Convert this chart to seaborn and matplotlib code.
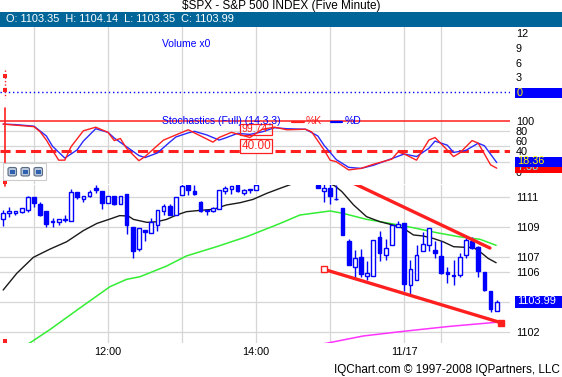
import matplotlib
matplotlib.use("Agg")
import matplotlib.pyplot as plt
from matplotlib.patches import Rectangle, FancyBboxPatch
from matplotlib.lines import Line2D
import numpy as np
import pandas as pd
import seaborn as sns

# ---------------- data ----------------
# 5-minute bars; index 0 = 11:00 on 11/16, index 60 = 09:30 on 11/17
bar_idx = list(range(-5, 76))
opens = [1109.49, 1109.89, 1109.91, 1109.96, 1110.09, 1110.96, 1110.54, 1110.05, 1109.40, 1109.31,
         1109.53, 1109.36, 1111.29, 1110.85, 1111.02, 1111.58, 1111.36, 1110.58, 1111.02, 1110.51,
         1111.18, 1109.00, 1107.53, 1108.76, 1108.58, 1109.09, 1110.02, 1110.36, 1109.80, 1111.09,
         1111.76, 1111.40, 1110.65, 1110.14, 1110.02, 1110.20, 1111.40, 1111.53, 1111.76, 1111.27,
         1111.49, 1111.45, 1112.30, 1112.80, 1113.10, 1112.90, 1113.00, 1113.30, 1112.80, 1112.60,
         1112.70, 1111.76, 1111.40, 1111.58, 1110.85, 1110.25, 1108.07, 1106.29, 1106.96, 1105.69,
         1105.69, 1108.29, 1107.09, 1107.76, 1109.00, 1109.25, 1105.13, 1105.47, 1107.36, 1107.80,
         1107.47, 1107.07, 1105.98, 1105.80, 1105.80, 1107.14, 1108.07, 1107.62, 1105.98, 1104.69,
         1103.35]
highs = [1110.11, 1110.29, 1110.05, 1110.22, 1111.02, 1111.00, 1110.65, 1110.05, 1109.58, 1109.49,
         1109.76, 1111.51, 1111.29, 1111.02, 1111.42, 1111.76, 1111.36, 1111.02, 1111.02, 1111.02,
         1111.18, 1109.00, 1108.91, 1108.76, 1109.58, 1110.14, 1110.51, 1110.51, 1110.98, 1112.30,
         1112.20, 1111.76, 1110.69, 1110.14, 1110.29, 1111.47, 1111.69, 1111.69, 1111.76, 1111.53,
         1111.51, 1112.30, 1113.00, 1113.30, 1113.40, 1113.20, 1113.50, 1113.40, 1113.10, 1112.90,
         1112.90, 1112.40, 1112.20, 1112.20, 1111.76, 1110.25, 1108.18, 1107.47, 1107.51, 1106.69,
         1108.09, 1108.69, 1108.18, 1109.09, 1109.40, 1109.25, 1106.80, 1107.80, 1108.65, 1108.91,
         1108.02, 1108.07, 1106.29, 1106.80, 1107.25, 1108.25, 1108.29, 1107.69, 1105.98, 1104.69,
         1104.14]
lows = [1109.07, 1109.67, 1109.80, 1109.89, 1110.00, 1110.29, 1109.74, 1108.98, 1108.96, 1109.13,
        1109.31, 1109.36, 1110.82, 1110.65, 1110.96, 1111.25, 1110.20, 1110.58, 1110.42, 1110.51,
        1108.54, 1106.91, 1107.36, 1108.02, 1108.58, 1108.69, 1109.80, 1109.80, 1109.80, 1111.09,
        1111.13, 1111.09, 1109.98, 1109.76, 1109.98, 1110.20, 1111.18, 1111.18, 1111.31, 1111.09,
        1111.25, 1111.45, 1112.20, 1112.50, 1112.70, 1112.60, 1112.80, 1112.70, 1112.40, 1112.30,
        1112.20, 1111.58, 1110.65, 1110.51, 1110.80, 1108.42, 1106.42, 1105.58, 1105.62, 1105.47,
        1105.69, 1106.69, 1106.80, 1107.76, 1108.95, 1104.74, 1104.47, 1105.47, 1107.36, 1107.40,
        1106.91, 1105.85, 1105.25, 1105.13, 1105.62, 1106.91, 1107.53, 1105.62, 1104.74, 1103.29,
        1103.35]
closes = [1109.94, 1110.05, 1110.03, 1110.22, 1110.98, 1110.58, 1109.76, 1109.20, 1109.34, 1109.49,
          1109.42, 1111.29, 1110.96, 1111.02, 1111.31, 1111.47, 1110.58, 1111.02, 1110.51, 1111.02,
          1109.13, 1107.36, 1108.91, 1108.62, 1109.29, 1110.14, 1110.36, 1109.80, 1110.98, 1111.70,
          1111.47, 1111.18, 1110.07, 1110.02, 1110.25, 1111.47, 1111.58, 1111.69, 1111.40, 1111.45,
          1111.42, 1111.80, 1112.80, 1113.10, 1112.90, 1113.00, 1113.30, 1112.80, 1112.60, 1112.70,
          1112.40, 1111.60, 1111.58, 1111.02, 1110.82, 1108.47, 1106.47, 1106.91, 1105.85, 1105.91,
          1108.09, 1107.25, 1107.60, 1109.09, 1109.20, 1105.18, 1106.18, 1107.09, 1107.85, 1108.91,
          1107.25, 1105.90, 1105.87, 1105.73, 1106.96, 1108.13, 1107.58, 1106.07, 1104.80, 1103.54,
          1103.99]

ma_black_idx = [-5, -2.8, -0.1, 2.6, 5.3, 8, 10.2, 12.3, 13.9, 15.3, 16.1, 18.3, 19.9, 21.5, 23.1,
                24.7, 26.9, 29.1, 31.2, 33.4, 35.5, 37.7, 39.9, 41.5, 44, 46, 47.8, 48.8, 49.9,
                51.8, 53.9, 56.1, 58.2, 59.9, 61.5, 63.1, 64.7, 66.3, 68, 70.1, 71.2, 72.3, 73.6, 74.9]
ma_black = [1104.78, 1105.89, 1106.96, 1107.51, 1108.00, 1108.74, 1109.22, 1109.51, 1109.74, 1109.71,
            1109.49, 1109.29, 1109.33, 1109.49, 1109.78, 1110.00, 1110.09, 1110.16, 1110.45, 1110.60,
            1110.82, 1111.22, 1111.56, 1111.80, 1112.20, 1112.30, 1111.90, 1111.71, 1111.34, 1110.45,
            1109.67, 1109.33, 1109.11, 1108.89, 1108.45, 1108.38, 1108.22, 1108.00, 1107.67, 1107.62,
            1107.62, 1107.33, 1106.89, 1106.60]

ma_green_idx = [-5, -0.4, 2.6, 7.5, 12.3, 15, 17.2, 21.5, 24.7, 29.6, 34.5, 39.9, 43.1, 48, 50.1,
                53.9, 57.7, 61.5, 65.3, 68.9, 72.3, 74.9]
ma_green = [1100.20, 1101.33, 1102.15, 1103.60, 1105.00, 1105.49, 1105.67, 1106.38, 1107.05, 1107.67,
            1108.34, 1109.22, 1109.78, 1110.05, 1109.89, 1109.49, 1109.22, 1108.93, 1108.60, 1108.33,
            1108.16, 1107.76]

ma_magenta_idx = [40, 47, 53.4, 59.9, 67.4, 75.5]
ma_magenta = [1100.60, 1101.20, 1101.72, 1102.03, 1102.36, 1102.65]

trend_upper_idx = [51, 73.9]
trend_upper = [1112.05, 1107.58]
trend_lower_idx = [47, 75.7]
trend_lower = [1106.16, 1102.60]

stoch_k_idx = [-5, -2, 0, 1, 2, 3, 4, 5, 6, 8, 10, 12, 13, 14, 15, 17, 18, 21, 23, 25, 27, 29, 30,
               32, 35, 37, 39, 41, 44, 45, 47, 48, 49, 51, 53, 55, 58, 59, 60, 62, 64, 65, 68, 69,
               71, 72, 74, 75]
stoch_k = [93, 90, 88, 78, 62, 42, 23, 23, 49, 80, 87, 77, 61, 65, 46, 22, 30, 62, 72, 82, 70, 58, 67,
           77, 67, 83, 87, 82, 83, 78, 43, 23, 20, 4, 7, 15, 25, 39, 35, 23, 62, 67, 30, 37,
           61, 56, 14, 7.38]
stoch_d_idx = [-5, -3, 0, 2, 3, 5, 7, 8, 10, 12, 13, 15, 17, 18, 20, 22, 23, 25, 26, 28, 30, 31, 33,
               35, 37, 39, 41, 44, 46, 47, 49, 51, 53, 55, 58, 60, 62, 64, 65, 67, 68, 70, 72, 73, 75]
stoch_d = [93, 92, 89, 70, 50, 27, 43, 60, 84, 77, 66, 49, 32, 28, 37, 58, 68, 76, 79, 72, 62, 66, 75,
           73, 78, 86, 84, 83, 70, 52, 24, 9, 7, 13, 26, 35, 30, 46, 60, 52, 38, 42, 56, 51, 18.36]

x_grid = [0, 12, 24, 36, 48, 60, 66]
x_labels = ['', '12:00', '', '14:00', '', '11/17', '']
price_ticks = [1102, 1104, 1106, 1107, 1109, 1111]
price_tick_labels = ['1102', '', '1106', '1107', '1109', '1111']
stoch_ticks = [0, 40, 60, 80, 100]
stoch_grid = [20, 50, 80]
vol_ticks = [3, 6, 9, 12]
stoch_upper, stoch_lower = 100, 40
last_close, last_d, last_k = 1103.99, 18.36, 7.38
title = "$SPX - S&P 500 INDEX (Five Minute)"
ohlc_text = "O: 1103.35  H: 1104.14  L: 1103.35  C: 1103.99"
footer = "IQChart.com \u00a9 1997-2008 IQPartners, LLC"

# ---------------- style ----------------
sns.set_style("white")
plt.rcParams['font.family'] = ['Liberation Sans', 'DejaVu Sans']
BLUE = '#0000ff'
RED = '#ff1f1f'
GRID = '#d6d6d6'

W, H = 562, 377
fig = plt.figure(figsize=(W / 100, H / 100), dpi=100)
fig.patch.set_facecolor('white')

def fx(x):
    return x / W

def fy(y):
    return 1 - y / H

PR = 510
ax_vol = fig.add_axes([0, fy(99), PR / W, (99 - 27) / H])
ax_sto = fig.add_axes([0, fy(184), PR / W, (184 - 99) / H])
ax_pr = fig.add_axes([0, fy(343), PR / W, (343 - 185) / H])

for ax in (ax_vol, ax_sto, ax_pr):
    ax.set_xlim(-5.51, 77.15)
    for s in ax.spines.values():
        s.set_visible(False)
    ax.set_facecolor('none')
    ax.yaxis.tick_right()
    ax.tick_params(length=0, labelsize=7.8, pad=4.3, colors='black')
    ax.set_xticks(x_grid)
    ax.grid(axis='x', color=GRID, lw=0.9)
    ax.set_axisbelow(True)

ax_vol.set_xticklabels([])
ax_sto.set_xticklabels([])
ax_pr.set_xticklabels(x_labels, fontsize=7.8)
ax_pr.tick_params(axis='x', pad=3)

# ---- volume panel ----
ax_vol.set_ylim(-1.42, 13.22)
ax_vol.set_yticks(vol_ticks)
ax_vol.set_yticklabels([str(v) for v in vol_ticks])
ax_vol.axhline(0, color=BLUE, lw=1.0, ls=(0, (1, 2)))

# ---- stochastics panel ----
ax_sto.set_ylim(-23.3, 141.75)
ax_sto.set_yticks(stoch_ticks)
ax_sto.set_yticklabels([str(v) for v in stoch_ticks])
for g in stoch_grid:
    ax_sto.axhline(g, color=GRID, lw=0.9, zorder=0.5)
ax_sto.axhline(stoch_upper, color=RED, lw=1.1, zorder=2)
ax_sto.axhline(stoch_lower, color=RED, lw=2.2, ls=(0, (3.3, 1.7)), zorder=2)
sns.lineplot(x=stoch_d_idx, y=stoch_d, ax=ax_sto, color='#2a2aff', lw=1.0,
             estimator=None, legend=False, zorder=3)
sns.lineplot(x=stoch_k_idx, y=stoch_k, ax=ax_sto, color=RED, lw=1.0,
             estimator=None, legend=False, zorder=3)
ax_sto.set_xlabel('')
ax_sto.set_ylabel('')

# ---- price panel ----
ax_pr.set_ylim(1101.25, 1111.78)
ax_pr.set_yticks(price_ticks)
ax_pr.set_yticklabels(price_tick_labels)
ax_pr.grid(axis='y', color=GRID, lw=0.9)

sns.lineplot(x=ma_magenta_idx, y=ma_magenta, ax=ax_pr, color='#ff33ff', lw=1.1,
             estimator=None, legend=False, zorder=2)
sns.lineplot(x=ma_green_idx, y=ma_green, ax=ax_pr, color='#33ee33', lw=1.1,
             estimator=None, legend=False, zorder=2)
sns.lineplot(x=ma_black_idx, y=ma_black, ax=ax_pr, color='#1a1a1a', lw=1.0,
             estimator=None, legend=False, zorder=2)

df = pd.DataFrame(dict(idx=bar_idx, o=opens, h=highs, l=lows, c=closes))
up = df.c >= df.o
body_lo = np.minimum(df.o, df.c)
body_h = np.maximum((df.c - df.o).abs(), 0.05)
ax_pr.vlines(df.idx, df.l, df.h, color=BLUE, lw=1.0, zorder=3)
ax_pr.bar(df.idx[up], body_h[up], bottom=body_lo[up], width=0.6,
          facecolor='white', edgecolor=BLUE, lw=1.0, zorder=4)
ax_pr.bar(df.idx[~up], body_h[~up], bottom=body_lo[~up], width=0.6,
          facecolor=BLUE, edgecolor=BLUE, lw=1.0, zorder=4)

sns.lineplot(x=trend_upper_idx, y=trend_upper, ax=ax_pr, color=RED, lw=2.4,
             estimator=None, legend=False, zorder=6)
sns.lineplot(x=trend_lower_idx, y=trend_lower, ax=ax_pr, color=RED, lw=2.4,
             estimator=None, legend=False, zorder=6)
ax_pr.plot(trend_lower_idx[0], trend_lower[0], marker='s', ms=4.5, mfc='white',
           mec=RED, mew=1.0, zorder=7)
ax_pr.plot(trend_lower_idx[1], trend_lower[1], marker='s', ms=4.5, mfc=RED,
           mec=RED, zorder=7)
ax_pr.set_xlabel('')
ax_pr.set_ylabel('')

# ---------------- figure decorations ----------------
fig.text(fx(281), fy(6.5), title, ha='center', va='center', fontsize=8.5, color='black')
fig.add_artist(Rectangle((0, fy(26.5)), 1, (26.5 - 12.5) / H, transform=fig.transFigure,
                         facecolor='#006699', edgecolor='none', zorder=1))
fig.text(fx(6), fy(19.5), ohlc_text, ha='left', va='center', fontsize=7.9, color='white', zorder=5)
fig.text(fx(162), fy(44), "Volume x0", ha='left', va='center', fontsize=7.5, color=BLUE, zorder=5)

# stochastics legend
fig.text(fx(162), fy(121.5), "Stochastics (Full) (14,3,3)", ha='left', va='center',
         fontsize=7.5, color=BLUE, zorder=5)
fig.add_artist(Line2D([fx(292), fx(304)], [fy(121.5), fy(121.5)], color=RED, lw=1.6,
                      transform=fig.transFigure, zorder=5))
fig.text(fx(306), fy(121.5), "%K", ha='left', va='center', fontsize=7.5, color=RED, zorder=5)
fig.add_artist(Line2D([fx(331), fx(342)], [fy(121.5), fy(121.5)], color=BLUE, lw=1.6,
                      transform=fig.transFigure, zorder=5))
fig.text(fx(345), fy(121.5), "%D", ha='left', va='center', fontsize=7.5, color=BLUE, zorder=5)

# level labels on stochastics
fig.add_artist(Rectangle((fx(240), fy(134.5)), 32 / W, 10.5 / H, transform=fig.transFigure,
                         facecolor='none', edgecolor=RED, lw=0.9, zorder=5))
fig.text(fx(242), fy(129.5), "99.74", ha='left', va='center', fontsize=7.5, color=RED, zorder=6)
fig.add_artist(Rectangle((fx(240), fy(153)), 32 / W, 14 / H, transform=fig.transFigure,
                         facecolor='white', edgecolor=RED, lw=0.9, zorder=5))
fig.text(fx(242), fy(146), f"{stoch_lower:.2f}", ha='left', va='center', fontsize=8.5,
         color=RED, zorder=6)

# right-hand value boxes
fig.add_artist(Rectangle((fx(515), fy(97.5)), 47 / W, 9.5 / H, transform=fig.transFigure,
                         facecolor=BLUE, edgecolor='none', zorder=4))
fig.text(fx(517), fy(92.5), "0", ha='left', va='center', fontsize=7.8, color='yellow', zorder=6)
fig.add_artist(Rectangle((fx(515), fy(172.5)), 47 / W, 10 / H, transform=fig.transFigure,
                         facecolor='#ff0000', edgecolor='none', zorder=4.2))
fig.text(fx(517), fy(166.5), f"{last_k:.2f}", ha='left', va='center', fontsize=7.8,
         color='#66ffff', zorder=4.5)
fig.add_artist(Rectangle((fx(515), fy(166.5)), 47 / W, 10 / H, transform=fig.transFigure,
                         facecolor=BLUE, edgecolor='none', zorder=5))
fig.text(fx(517), fy(161.5), f"{last_d:.2f}", ha='left', va='center', fontsize=7.8,
         color='yellow', zorder=6)
fig.add_artist(Rectangle((fx(515), fy(307.5)), 47 / W, 12 / H, transform=fig.transFigure,
                         facecolor=BLUE, edgecolor='none', zorder=4))
fig.text(fx(517), fy(301.5), f"{last_close:.2f}", ha='left', va='center', fontsize=7.9,
         color='white', zorder=6)

# left-edge red cursor marks
fig.add_artist(Line2D([fx(4.5), fx(4.5)], [fy(70), fy(98)], color=RED, lw=1.0, ls=(0, (1, 1.5)),
                      transform=fig.transFigure, zorder=5))
fig.add_artist(Line2D([fx(4.5), fx(4.5)], [fy(108), fy(186)], color=RED, lw=1.2,
                      transform=fig.transFigure, zorder=5))
for yy in (76, 90, 182, 341):
    fig.add_artist(Rectangle((fx(3), fy(yy + 2)), 3.5 / W, 4 / H, transform=fig.transFigure,
                             facecolor=RED, edgecolor='none', zorder=5))

# small panel buttons
fig.add_artist(Rectangle((fx(3), fy(180)), 43 / W, 17 / H, transform=fig.transFigure,
                         facecolor='white', edgecolor='#cccccc', lw=0.8, zorder=5))
for bx in (8, 21, 34):
    fig.add_artist(FancyBboxPatch((fx(bx), fy(176)), 8.5 / W, 8.5 / H,
                                  boxstyle='round,pad=0,rounding_size=0.004',
                                  transform=fig.transFigure, facecolor='#b8c8dc',
                                  edgecolor='#5a6a80', lw=0.8, zorder=6))
    fig.add_artist(Rectangle((fx(bx + 2), fy(173.5)), 4.5 / W, 3.5 / H, transform=fig.transFigure,
                             facecolor='#3060b0', edgecolor='none', zorder=7))

fig.text(fx(560), fy(370), footer, ha='right', va='center', fontsize=8.5, color='black')

fig.savefig("out.png", dpi=100, facecolor='white')
